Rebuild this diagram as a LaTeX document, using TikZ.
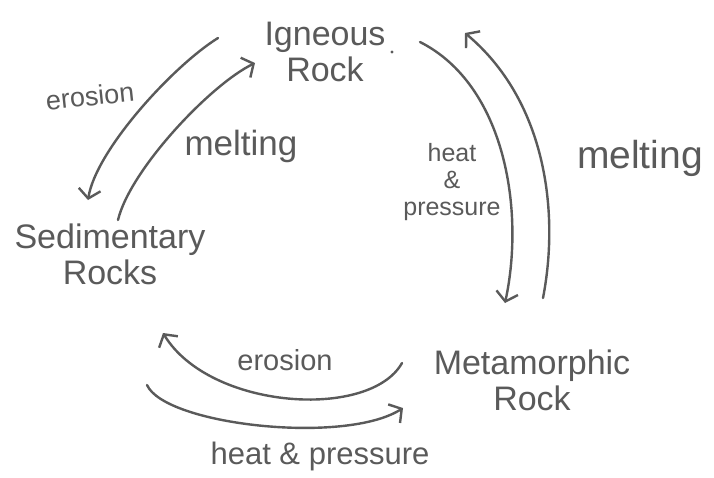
\documentclass[tikz,border=0pt]{standalone}
\usepackage{fontspec}
\setmainfont{Liberation Sans}
\usetikzlibrary{arrows.meta}
\definecolor{ink}{HTML}{5A5A5A}
\tikzset{
  rocklabel/.style={text=ink, align=center, inner sep=0pt, font=\fontsize{34}{36}\selectfont},
  proclabel/.style={text=ink, align=center, inner sep=0pt},
  flow/.style={draw=ink, line width=2.4pt, line cap=round, line join=round},
  flowtip/.style={flow, -{Straight Barb[length=9pt,width=22pt,line width=2.4pt]}}
}
\begin{document}
\begin{tikzpicture}[x=1pt,y=-1pt]
\useasboundingbox[fill=white] (0,0) rectangle (714,477);
% rock nodes
\node[rocklabel] (ign) at (325,52) {Igneous\\Rock};
\node[rocklabel] (sed) at (110,254) {Sedimentary\\Rocks};
\node[rocklabel] (met) at (532,380) {Metamorphic\\Rock};
\coordinate (dot) at (392,52);
\fill[ink] (dot) circle (1.6);
% process labels
\node[proclabel, font=\fontsize{27}{29}\selectfont, rotate=6] (ero1) at (90,96) {erosion};
\node[proclabel, font=\fontsize{35}{37}\selectfont] (mel1) at (241,146) {melting};
\node[proclabel, font=\fontsize{25}{27}\selectfont] (hp1) at (452,182) {heat\\\&\\pressure};
\node[proclabel, font=\fontsize{39}{41}\selectfont] (mel2) at (640,158) {melting};
\node[proclabel, font=\fontsize{29}{31}\selectfont] (ero2) at (285,360) {erosion};
\node[proclabel, font=\fontsize{31}{33}\selectfont] (hp2) at (320,456) {heat \& pressure};
% connector end points
\coordinate (a1s) at (218,38);  \coordinate (a1e) at (88,200);
\coordinate (a2s) at (118,220); \coordinate (a2e) at (255,63);
\coordinate (a3s) at (420,42);  \coordinate (a3e) at (505,303);
\coordinate (a4s) at (543,298); \coordinate (a4e) at (465,33);
\coordinate (a5s) at (402,363); \coordinate (a5e) at (163,333);
\coordinate (a6s) at (147,385); \coordinate (a6e) at (403,408);
% connectors
\draw[flowtip] (a1s) .. controls (173,66) and (96,150) .. (a1e);
\draw[flowtip] (a2s) .. controls (130,170) and (210,85) .. (a2e);
\draw[flowtip] (a3s) .. controls (505,85) and (525,210) .. (a3e);
\draw[flowtip] (a4s) .. controls (560,210) and (545,100) .. (a4e);
\draw[flowtip] (a5s) .. controls (370,420) and (210,410) .. (a5e);
\draw[flowtip] (a6s) .. controls (165,425) and (345,445) .. (a6e);
\end{tikzpicture}
\end{document}
